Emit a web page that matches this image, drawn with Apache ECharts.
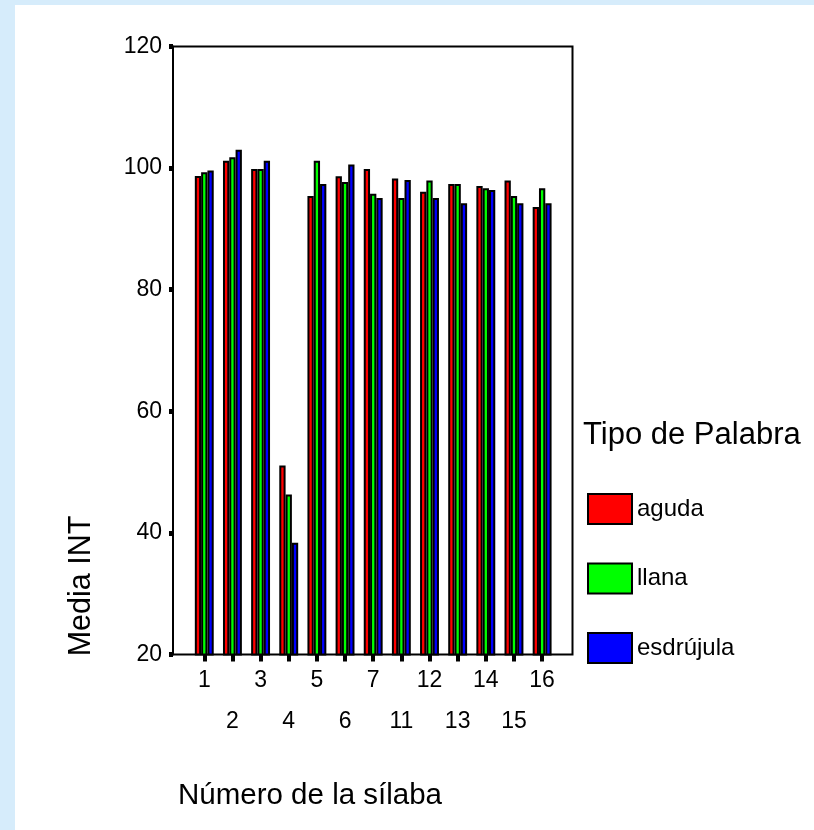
<!DOCTYPE html>
<html>
<head>
<meta charset="utf-8">
<script src="https://cdn.jsdelivr.net/npm/echarts@6/dist/echarts.min.js"></script>
<style>
html,body{margin:0;padding:0;background:#d6ecfb;}
#bg{position:absolute;left:15px;top:5px;width:799px;height:825px;background:#fff;}
#chart{position:absolute;left:0;top:0;width:814px;height:830px;}
</style>
</head>
<body>
<div id="bg"></div>
<div id="chart"></div>
<script>
const categories = ['1','2','3','4','5','6','7','11','12','13','14','15','16'];
const aguda     = [98.7, 101.2, 99.85, 51.1, 95.4, 98.65, 99.85, 98.3, 96.1, 97.4, 97.06, 97.95, 93.6];
const llana     = [99.3, 101.8, 99.85, 46.3, 101.2, 97.7, 95.8, 95.1, 97.95, 97.4, 96.7, 95.4, 96.7];
const esdrujula = [99.6, 103.0, 101.2, 38.4, 97.4, 100.6, 95.1, 98.05, 95.1, 94.2, 96.4, 94.2, 94.2];
const seriesNames = ['aguda', 'llana', 'esdrújula'];
const seriesColors = ['#ff0000', '#00ff00', '#0000ff'];
const yTicks = {min: 20, max: 120, interval: 20};

const FONT = '"Liberation Sans", Arial, sans-serif';
const chart = echarts.init(document.getElementById('chart'), null, {renderer: 'canvas'});
const seriesData = [aguda, llana, esdrujula];

const option = {
  backgroundColor: 'transparent',
  animation: false,
  textStyle: {fontFamily: FONT},
  grid: [
    {left: 173, right: 241.5, top: 46.5, bottom: 175.5, show: true, borderColor: '#000', borderWidth: 2, backgroundColor: 'transparent'},
    {left: 190.2, right: 257.8, top: 46.5, bottom: 175.5}
  ],
  xAxis: [
    {gridIndex: 0, type: 'category', data: categories, show: false},
    {gridIndex: 1, type: 'category', data: categories, position: 'bottom',
     axisLine: {show: false},
     axisTick: {show: true, alignWithLabel: true, length: 7, lineStyle: {color: '#000', width: 4}, interval: 0},
     axisLabel: {interval: (i) => i % 2 === 0, color: '#000', fontSize: 23, fontFamily: FONT, margin: 15}},
    {gridIndex: 1, type: 'category', data: categories, position: 'bottom', offset: 40.5,
     axisLine: {show: false}, axisTick: {show: false},
     axisLabel: {interval: (i) => i % 2 === 1, color: '#000', fontSize: 23, fontFamily: FONT, margin: 15}}
  ],
  yAxis: [
    {gridIndex: 0, type: 'value', min: yTicks.min, max: yTicks.max, interval: yTicks.interval,
     axisLine: {show: true, lineStyle: {color: '#000', width: 2}},
     axisTick: {show: true, length: 4, lineStyle: {color: '#000', width: 5}},
     splitLine: {show: false},
     axisLabel: {color: '#000', fontSize: 23, fontFamily: FONT, margin: 11}},
    {gridIndex: 1, type: 'value', min: yTicks.min, max: yTicks.max, interval: yTicks.interval, show: false}
  ],
  legend: {
    orient: 'vertical', left: 587, top: 493, padding: 0, itemWidth: 44, itemHeight: 30, itemGap: 37.5,
    icon: 'rect',
    itemStyle: {borderColor: '#000', borderWidth: 2},
    textStyle: {color: '#000', fontSize: 24, fontFamily: FONT},
    data: seriesNames
  },
  graphic: [
    {type: 'text', x: 583, y: 435, style: {text: 'Tipo de Palabra', font: '31px ' + FONT, fill: '#000', textAlign: 'left', textVerticalAlign: 'middle'}},
    {type: 'text', x: 178, y: 796, style: {text: 'Número de la sílaba', font: '29.5px ' + FONT, fill: '#000', textAlign: 'left', textVerticalAlign: 'middle'}},
    {type: 'text', x: 82, y: 586, rotation: Math.PI / 2, style: {text: 'Media INT', font: '30.5px ' + FONT, fill: '#000', textAlign: 'center', textVerticalAlign: 'middle'}}
  ],
  series: seriesNames.map((name, k) => ({
    name: name,
    type: 'bar',
    xAxisIndex: 1,
    yAxisIndex: 1,
    data: seriesData[k],
    barWidth: 6.3,
    barGap: '0%',
    itemStyle: {color: seriesColors[k], borderColor: '#000', borderWidth: 2}
  }))
};
chart.setOption(option);
</script>
</body>
</html>
